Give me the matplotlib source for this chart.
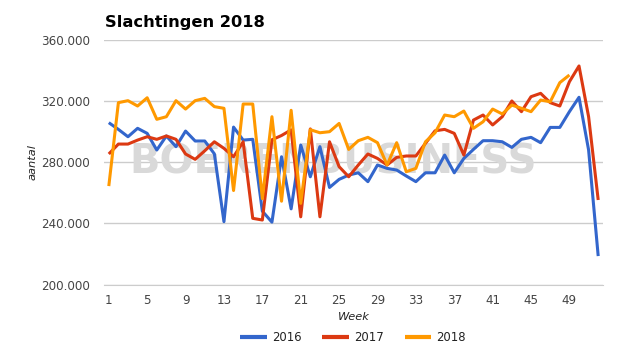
import matplotlib
matplotlib.use("Agg")
import matplotlib.pyplot as plt
from matplotlib.ticker import FuncFormatter

weeks_2016 = list(range(1, 53))
vals_2016 = [305.9, 301.5, 296.7, 302.2, 298.9, 288.0, 297.2, 290.2, 300.4, 293.9,
             293.9, 285.5, 241.1, 303.0, 294.5, 295.0, 248.0, 240.8, 283.6, 249.5,
             291.3, 270.5, 290.2, 263.5, 268.8, 271.6, 273.1, 267.3, 278.2, 276.0,
             274.9, 271.0, 267.3, 273.1, 273.1, 284.7, 273.1, 282.5, 288.4, 294.1,
             294.1, 293.4, 289.7, 295.0, 296.3, 292.8, 302.8, 302.8, 313.1, 322.5,
             288.0, 218.6]
weeks_2017 = list(range(1, 53))
vals_2017 = [285.4, 291.9, 291.9, 294.5, 296.7, 295.0, 297.2, 295.0, 285.4, 281.9,
             287.5, 293.4, 289.1, 283.6, 293.4, 243.3, 242.2, 294.7, 297.5, 301.2,
             244.3, 301.8, 244.3, 293.4, 277.1, 270.5, 278.2, 285.4, 282.5, 278.2,
             283.2, 284.1, 284.1, 292.4, 300.6, 301.5, 298.9, 284.7, 307.6, 310.9,
             304.4, 309.8, 320.1, 313.1, 322.9, 325.1, 319.0, 316.8, 332.7, 343.0,
             309.8, 255.3]
weeks_2018 = list(range(1, 50))
vals_2018 = [264.4, 319.0, 320.3, 316.8, 322.2, 308.1, 309.8, 320.3, 314.8, 320.3,
             321.8, 316.4, 315.3, 261.5, 318.1, 318.1, 256.2, 309.8, 254.5, 314.0,
             253.1, 301.3, 299.3, 300.0, 305.4, 288.4, 294.1, 296.3, 292.8, 278.2,
             292.8, 273.8, 276.0, 293.4, 299.3, 310.9, 309.8, 313.5, 302.2, 306.5,
             314.8, 311.6, 317.4, 315.3, 313.1, 320.7, 319.6, 332.1, 337.1]

series_names = ["2016", "2017", "2018"]
series_colors = ["#3366CC", "#DC3912", "#FF9900"]
x_ticks = [1, 5, 9, 13, 17, 21, 25, 29, 33, 37, 41, 45, 49]
y_ticks = [200000, 240000, 280000, 320000, 360000]

title = "Slachtingen 2018"
x_label = "Week"
y_label = "aantal"
watermark = "BOERENBUSINESS"

plt.rcParams['font.family'] = ['DejaVu Sans']

fig = plt.figure(figsize=(6.25, 3.55), dpi=100)
ax = fig.add_axes([104/625, 1 - 284.5/355, 499/625, 244.5/355])

ax.text(333/625, 1 - 162.5/355, watermark, transform=fig.transFigure,
        fontweight='bold', fontsize=28.9, color='#d9d9d9',
        ha='center', va='center', zorder=1)

for w, v, name, c in zip([weeks_2016, weeks_2017, weeks_2018],
                         [vals_2016, vals_2017, vals_2018],
                         series_names, series_colors):
    ax.plot(w, [x * 1000 for x in v], color=c, lw=2.2, label=name,
            solid_joinstyle='round', solid_capstyle='butt', zorder=2)

ax.set_xlim(0.5, 52.5)
ax.set_ylim(200000, 360000)
ax.set_xticks(x_ticks)
ax.set_yticks(y_ticks)
ax.yaxis.set_major_formatter(FuncFormatter(lambda v, p: f"{int(v):,}".replace(",", ".")))
ax.tick_params(axis='both', length=0, labelsize=8.6, colors='#444444')
ax.tick_params(axis='y', pad=10)
ax.tick_params(axis='x', pad=7)
ax.grid(axis='y', color='#cccccc', lw=1, zorder=0)
ax.set_axisbelow(True)
for s in ['left', 'right', 'top']:
    ax.spines[s].set_visible(False)
ax.spines['bottom'].set_color('#cccccc')

fig.text(353.5/625, 1 - 317.3/355, x_label, style='italic', fontsize=8.2,
         color='#222222', ha='center', va='center')
fig.text(33/625, 1 - 162/355, y_label, style='italic', fontsize=8.2,
         color='#222222', ha='center', va='center', rotation=90)
fig.text(105/625, 1 - 26.5/355, title, fontweight='bold', fontsize=11.7,
         color='#000000', ha='left', va='baseline')

leg = fig.legend(loc='center', bbox_to_anchor=(353/625, 1 - 337.3/355), ncol=3,
                 frameon=False, fontsize=8.4, handlelength=2.25, handletextpad=0.45,
                 columnspacing=1.8, borderaxespad=0)
for t in leg.get_texts():
    t.set_color('#222222')
for l in leg.get_lines():
    l.set_linewidth(3)

fig.savefig("out.png", dpi=100)
